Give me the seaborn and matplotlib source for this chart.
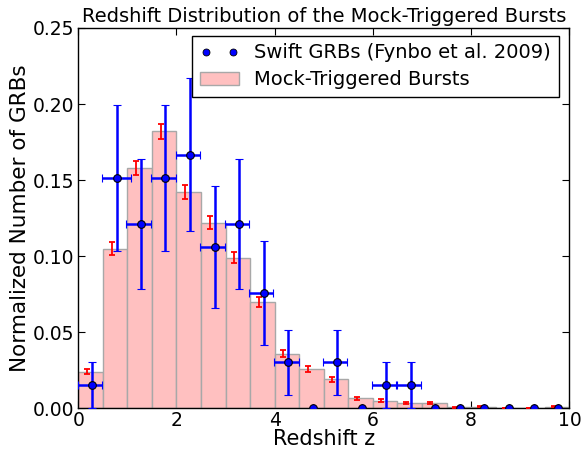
import numpy as np
import matplotlib
matplotlib.use("Agg")
import matplotlib.pyplot as plt
import seaborn as sns
from matplotlib.lines import Line2D
from matplotlib.patches import Patch

# ---- data ----
bin_edges = [0.0, 0.5, 1.0, 1.5, 2.0, 2.5, 3.0, 3.5, 4.0, 4.5, 5.0,
             5.5, 6.0, 6.5, 7.0, 7.5, 8.0, 8.5, 9.0, 9.5, 10.0]
bin_centers = [0.25, 0.75, 1.25, 1.75, 2.25, 2.75, 3.25, 3.75, 4.25, 4.75,
               5.25, 5.75, 6.25, 6.75, 7.25, 7.75, 8.25, 8.75, 9.25, 9.75]
mock_frac = [0.024, 0.105, 0.158, 0.182, 0.142, 0.122, 0.099, 0.070, 0.036, 0.026,
             0.019, 0.0065, 0.005, 0.0033, 0.0033, 0.0008, 0.001, 0.0003, 0.0003, 0.001]
mock_err = [0.0016, 0.004, 0.0048, 0.005, 0.0045, 0.0042, 0.0038, 0.0034, 0.0022, 0.0019,
            0.0016, 0.001, 0.0009, 0.0007, 0.0007, 0.0003, 0.0004, 0.0002, 0.0002, 0.0004]
mock_x = [0.18, 0.68, 1.17, 1.68, 2.17, 2.68, 3.17, 3.68, 4.17, 4.68,
          5.17, 5.68, 6.17, 6.68, 7.17, 7.68, 8.17, 8.68, 9.17, 9.68]

swift_z = [0.28, 0.78, 1.27, 1.77, 2.28, 2.78, 3.28, 3.78, 4.28, 4.77,
           5.27, 5.77, 6.27, 6.77, 7.27, 7.77, 8.27, 8.77, 9.27, 9.77]
swift_frac = [0.0152, 0.1515, 0.1212, 0.1515, 0.1667, 0.1061, 0.1212, 0.0758, 0.0303, 0.0,
              0.0303, 0.0, 0.0152, 0.0152, 0.0, 0.0, 0.0, 0.0, 0.0, 0.0]
swift_yerr = [0.0152, 0.0479, 0.0429, 0.0479, 0.0503, 0.0401, 0.0429, 0.0339, 0.0214, 0.0,
              0.0214, 0.0, 0.0152, 0.0152, 0.0, 0.0, 0.0, 0.0, 0.0, 0.0]
swift_xerr_lo = [0.29, 0.30, 0.29, 0.29, 0.29, 0.30, 0.30, 0.30, 0.30, 0.0,
                 0.29, 0.0, 0.29, 0.29, 0.0, 0.0, 0.0, 0.0, 0.0, 0.0]
swift_xerr_hi = [0.20, 0.29, 0.21, 0.21, 0.20, 0.20, 0.20, 0.19, 0.21, 0.0,
                 0.21, 0.0, 0.20, 0.20, 0.0, 0.0, 0.0, 0.0, 0.0, 0.0]

sns.set_style("ticks")
plt.rcParams['font.family'] = ['DejaVu Sans']
plt.rcParams['text.color'] = 'black'
plt.rcParams['axes.labelcolor'] = 'black'

fig = plt.figure(figsize=(5.84, 4.51), dpi=100)
ax = fig.add_axes([0.134, 0.0947, 0.841, 0.8433])

sns.histplot(x=bin_centers, weights=mock_frac, bins=bin_edges, stat="count",
             color="#ffc0c0", edgecolor="#a8a8a8", linewidth=1.0, alpha=1.0,
             ax=ax, zorder=1)

ax.errorbar(mock_x, mock_frac, yerr=mock_err, fmt="none", ecolor="red",
            elinewidth=1.3, capsize=2.2, capthick=1.3, zorder=3)

ax.errorbar(swift_z, swift_frac, yerr=swift_yerr,
            xerr=[swift_xerr_lo, swift_xerr_hi], fmt="o", color="blue",
            ecolor="blue", markersize=5.5, markeredgecolor="black",
            markeredgewidth=0.8, elinewidth=1.8, capsize=2.6, capthick=1.3,
            zorder=4)

ax.set_xlim(0, 10)
ax.set_ylim(0, 0.25)
ax.set_xticks([0, 2, 4, 6, 8, 10])
ax.set_yticks([0.0, 0.05, 0.10, 0.15, 0.20, 0.25])
ax.set_yticklabels(["0.00", "0.05", "0.10", "0.15", "0.20", "0.25"])
ax.tick_params(direction="in", top=True, right=True, length=5, width=0.8,
               labelsize=13.5, pad=3, colors="black")
ax.tick_params(axis="x", pad=2)
for s in ax.spines.values():
    s.set_linewidth(1.0)
    s.set_color("black")
ax.set_xlabel("Redshift z", fontsize=15, labelpad=-1, color="black")
ax.set_ylabel("Normalized Number of GRBs", fontsize=15.5, labelpad=2, color="black")
ax.set_title("Redshift Distribution of the Mock-Triggered Bursts", fontsize=14, pad=4,
             color="black")

handles = [Line2D([], [], marker="o", linestyle="none", color="blue",
                  markeredgecolor="black", markeredgewidth=0.6, markersize=5),
           Patch(facecolor="#ffc0c0", edgecolor="#a8a8a8", linewidth=1.0)]
leg = ax.legend(handles, ["Swift GRBs (Fynbo et al. 2009)", "Mock-Triggered Bursts"],
                loc="upper right", bbox_to_anchor=(0.9786, 0.9798), borderaxespad=0,
                numpoints=2, fontsize=14, fancybox=False,
                framealpha=1, edgecolor="black", labelcolor="black",
                handlelength=2.0, handletextpad=0.8, borderpad=0.4,
                labelspacing=0.4)
leg.get_frame().set_linewidth(1.0)

fig.savefig("out.png", dpi=100)
